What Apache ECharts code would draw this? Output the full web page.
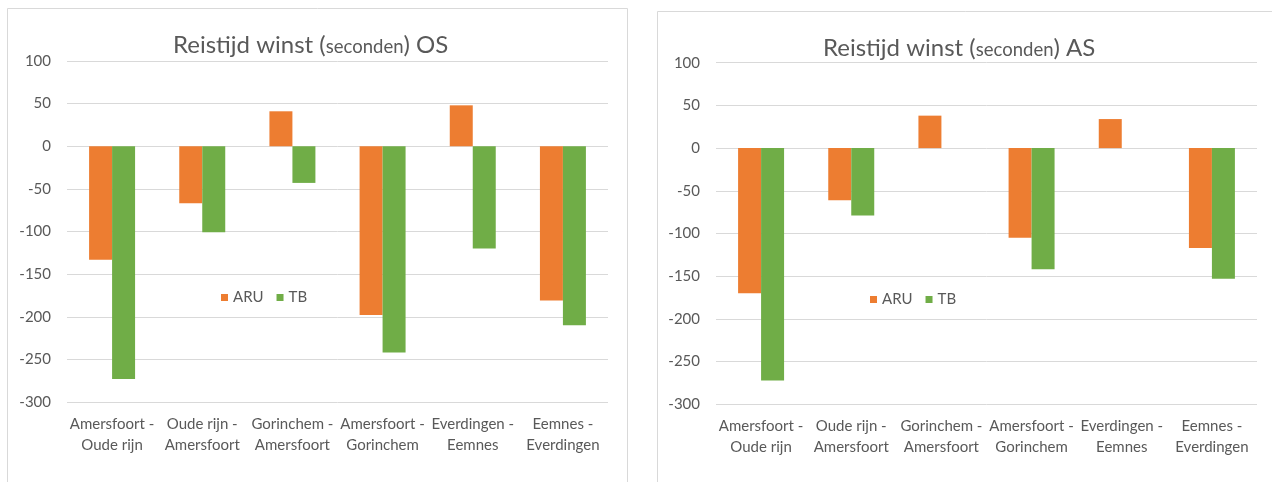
<!DOCTYPE html>
<html>
<head>
<meta charset="utf-8">
<script src="https://cdn.jsdelivr.net/npm/echarts@6/dist/echarts.min.js"></script>
<style>
html,body{margin:0;padding:0;background:#fff;}
#c{width:1272px;height:482px;}
</style>
</head>
<body>
<div id="c"></div>
<script>
var categories = ['Amersfoort -\nOude rijn','Oude rijn -\nAmersfoort','Gorinchem -\nAmersfoort','Amersfoort -\nGorinchem','Everdingen -\nEemnes','Eemnes -\nEverdingen'];
var seriesNames = ['ARU','TB'];
var osARU = [-133, -67, 41, -198, 48, -181];
var osTB  = [-273, -101, -43, -242, -120, -210];
var asARU = [-170, -61, 38, -105, 34, -117];
var asTB  = [-272, -79, null, -142, null, -153];
var yTicks = {min: -300, max: 100, interval: 50};

var FONT = 'Lato';
var TXT = '#595959';
var GRID = '#d9d9d9';
var ORANGE = '#ED7D31';
var GREEN = '#70AD47';

function titleObj(suffix, left, top) {
  return {
    text: '{a|Reistijd winst (}{b|seconden}{a|) ' + suffix + '}',
    left: left, top: top,
    textStyle: {
      fontWeight: 'normal',
      rich: {
        a: {fontFamily: FONT, fontSize: 24, fontWeight: 'normal', color: TXT},
        b: {fontFamily: FONT, fontSize: 18.5, fontWeight: 'normal', color: TXT, padding: [5,0,0,0]}
      }
    }
  };
}
function xAx(gi) {
  return {
    type: 'category', gridIndex: gi, data: categories, position: 'bottom',
    axisLine: {show: false, onZero: false}, axisTick: {show: false},
    axisLabel: {color: TXT, fontFamily: FONT, fontSize: 15, lineHeight: 21.5, margin: 11, interval: 0}
  };
}
function yAx(gi) {
  return {
    type: 'value', gridIndex: gi, min: yTicks.min, max: yTicks.max, interval: yTicks.interval,
    axisLine: {show: false}, axisTick: {show: false},
    axisLabel: {color: TXT, fontFamily: FONT, fontSize: 15, margin: 16},
    splitLine: {lineStyle: {color: GRID, width: 1}}
  };
}
function bar(name, data, gi, color) {
  return {
    type: 'bar', name: name, data: data, xAxisIndex: gi, yAxisIndex: gi,
    barWidth: '25.5%', barGap: '0%', itemStyle: {color: color}, animation: false
  };
}
function legendObj(left, top) {
  return {
    data: seriesNames, left: left, top: top, orient: 'horizontal',
    itemWidth: 7, itemHeight: 7, itemGap: 13, icon: 'rect',
    textStyle: {color: TXT, fontFamily: FONT, fontSize: 15},
    selectedMode: false
  };
}

var chart = echarts.init(document.getElementById('c'), null, {renderer: 'canvas'});
var option = {
  animation: false,
  backgroundColor: '#fff',
  color: [ORANGE, GREEN],
  title: [titleObj('OS', 168, 28), titleObj('AS', 818, 31)],
  legend: [legendObj(216, 285), legendObj(865, 287)],
  grid: [
    {left: 67, right: 664, top: 61, bottom: 80, containLabel: false},
    {left: 716, right: 15, top: 62.7, bottom: 77.7, containLabel: false}
  ],
  xAxis: [xAx(0), xAx(1)],
  yAxis: [yAx(0), yAx(1)],
  series: [
    bar(seriesNames[0], osARU, 0, ORANGE),
    bar(seriesNames[1], osTB, 0, GREEN),
    bar(seriesNames[0], asARU, 1, ORANGE),
    bar(seriesNames[1], asTB, 1, GREEN)
  ],
  graphic: [
    {type: 'rect', shape: {x: 7.5, y: 8.5, width: 620, height: 500}, style: {fill: 'none', stroke: GRID, lineWidth: 1}, silent: true},
    {type: 'rect', shape: {x: 657.5, y: 11.5, width: 700, height: 500}, style: {fill: 'none', stroke: GRID, lineWidth: 1}, silent: true}
  ]
};
chart.setOption(option);
</script>
</body>
</html>
